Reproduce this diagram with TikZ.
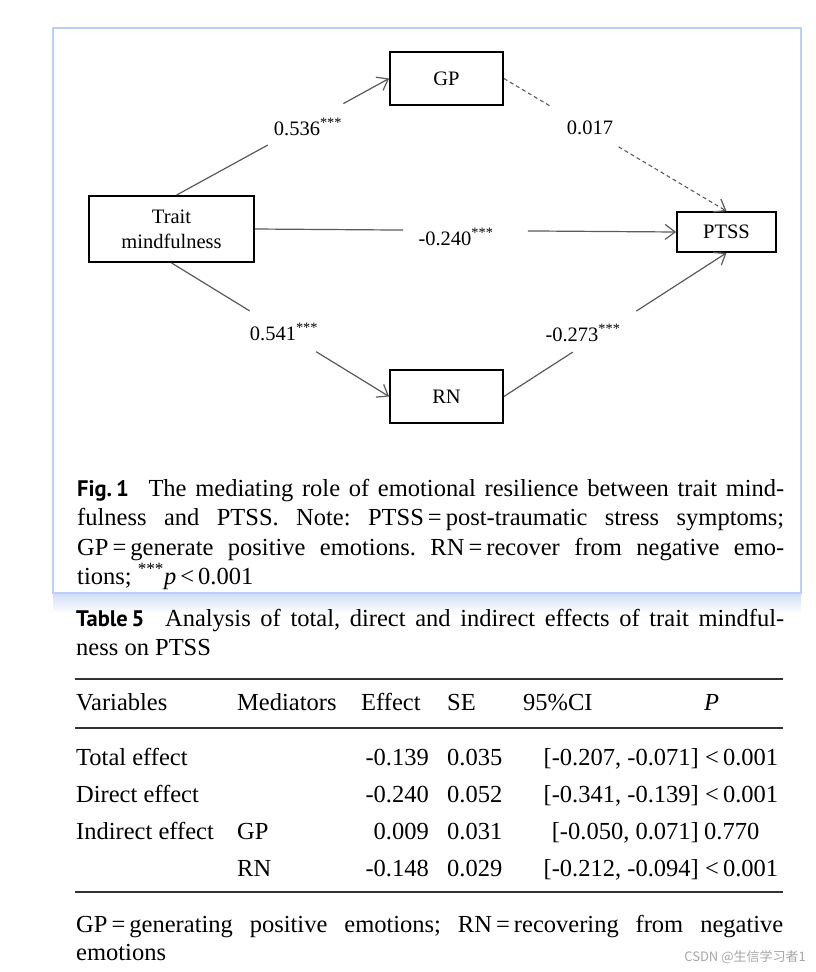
\documentclass[tikz,border=0pt]{standalone}
\usepackage{fontspec}
\setmainfont{Liberation Serif}
\newfontfamily\capsans{PT Sans}
\newfontfamily\cjkfont{Noto Sans CJK SC}
\usetikzlibrary{arrows.meta,calc}
\definecolor{conngray}{HTML}{5A5A5A}
\definecolor{frameblue}{HTML}{B9CFF4}
\definecolor{shadeblue}{HTML}{C6D8F6}
\definecolor{rulegray}{HTML}{333333}
\frenchspacing
\newcommand{\figfont}{\fontsize{20.5}{25}\selectfont}
\newcommand{\bodyfont}{\fontsize{24.5}{29.5}\selectfont\frenchspacing}
\newcommand{\capfont}{\fontsize{22.5}{26}\selectfont\capsans\bfseries}
\newcommand{\jline}[1]{\makebox[707pt][s]{#1}}
\begin{document}
\begin{tikzpicture}[x=1pt,y=-1pt,
  box/.style={draw=black, line width=1.8pt, inner sep=0pt, font=\figfont, align=center},
  conn/.style={draw=conngray, line width=1.2pt},
  tip/.style={-{Straight Barb[length=10pt,width=15pt,line width=1.2pt]}},
  dashconn/.style={draw=conngray, line width=1.1pt, dash pattern=on 4pt off 3pt},
  lbl/.style={font=\figfont, inner sep=0pt},
  tx/.style={font=\bodyfont, inner sep=0pt},
  rulestyle/.style={draw=rulegray}]
\useasboundingbox (0,0) rectangle (816,972);
\fill[white] (0,0) rectangle (816,972);
% frame with soft shadow
\shade[top color=shadeblue, bottom color=white] (53,590) rectangle (801,613);
\draw[frameblue, line width=1.5pt, fill=white] (53,28) rectangle (801,593);

% nodes
\node[box, minimum width=165pt, minimum height=66pt] (trait) at (171.5,229) {Trait\\mindfulness};
\node[box, minimum width=113pt, minimum height=53pt] (gp) at (446.5,78.5) {GP};
\node[box, minimum width=113pt, minimum height=53pt] (rn) at (446.5,396.5) {RN};
\node[box, minimum width=99pt, minimum height=40pt] (ptss) at (726.5,232) {PTSS};

% labels
\node[lbl] (l1) at (308,127) {0.536\textsuperscript{***}};
\node[lbl] (l2) at (456,237) {-0.240\textsuperscript{***}};
\node[lbl] (l3) at (284,332) {0.541\textsuperscript{***}};
\node[lbl] (l4) at (590,128) {0.017};
\node[lbl] (l5) at (583,333) {-0.273\textsuperscript{***}};

% connectors
\coordinate (tn) at ($(trait.north)+(5,0)$);
\draw[conn] (tn) -- ($(tn)!0.43!(gp.west)$);
\draw[conn, tip] ($(tn)!0.785!(gp.west)$) -- (gp.west);

\draw[conn] (trait.south) -- ($(trait.south)!0.359!(rn.west)$);
\draw[conn, tip] ($(trait.south)!0.665!(rn.west)$) -- (rn.west);

\draw[conn] (trait.east) -- ($(trait.east)!0.352!(ptss.west)$);
\draw[conn, tip] ($(trait.east)!0.648!(ptss.west)$) -- (ptss.west);

\draw[dashconn] (gp.east) -- ($(gp.east)!0.21!(ptss.north)$);
\draw[dashconn, tip] ($(gp.east)!0.515!(ptss.north)$) -- (ptss.north);

\draw[conn] (rn.east) -- ($(rn.east)!0.309!(ptss.south)$);
\draw[conn, tip] ($(rn.east)!0.595!(ptss.south)$) -- (ptss.south);

% figure caption
\node[tx, anchor=base west] (fc1) at (77,496) {\jline{{\capfont Fig.\,1}\hspace{0.45em} The mediating role of emotional resilience between trait mind-}};
\node[tx, anchor=base west] (fc2) at (77,525) {\jline{fulness and PTSS. Note: PTSS\,=\,post-traumatic stress symptoms;}};
\node[tx, anchor=base west] (fc3) at (77,555) {\jline{GP\,=\,generate positive emotions. RN\,=\,recover from negative emo-}};
\node[tx, anchor=base west] (fc4) at (77,584) {tions; \textsuperscript{***}\textit{p}\,<\,0.001};

% table caption
\node[tx, anchor=base west] (tc1) at (76,626) {\makebox[708pt][s]{{\capfont Table\,5}\hspace{0.45em} Analysis of total, direct and indirect effects of trait mindful-}};
\node[tx, anchor=base west] (tc2) at (76,655) {ness on PTSS};

% table rules
\draw[rulestyle, line width=1.3pt] (75,679) -- (783,679);
\draw[rulestyle, line width=2pt] (75,728) -- (783,728);
\draw[rulestyle, line width=1.3pt] (75,892) -- (783,892);

% header
\node[tx, anchor=base west] (h1) at (76,710) {Variables};
\node[tx, anchor=base west] (h2) at (237,710) {Mediators};
\node[tx, anchor=base west] (h3) at (361,710) {Effect};
\node[tx, anchor=base west] (h4) at (447,710) {SE};
\node[tx, anchor=base west] (h5) at (523,710) {95\%CI};
\node[tx, anchor=base west] (h6) at (704,710) {\textit{P}};

% rows
\node[tx, anchor=base west] (r1a) at (76,765) {Total effect};
\node[tx, anchor=base east] (r1c) at (429,765) {-0.139};
\node[tx, anchor=base west] (r1d) at (447,765) {0.035};
\node[tx, anchor=base east] (r1e) at (699,765) {[-0.207, -0.071]};
\node[tx, anchor=base west] (r1f) at (705,765) {<\,0.001};

\node[tx, anchor=base west] (r2a) at (76,802) {Direct effect};
\node[tx, anchor=base east] (r2c) at (429,802) {-0.240};
\node[tx, anchor=base west] (r2d) at (447,802) {0.052};
\node[tx, anchor=base east] (r2e) at (699,802) {[-0.341, -0.139]};
\node[tx, anchor=base west] (r2f) at (705,802) {<\,0.001};

\node[tx, anchor=base west] (r3a) at (76,839) {Indirect effect};
\node[tx, anchor=base west] (r3b) at (237,839) {GP};
\node[tx, anchor=base east] (r3c) at (429,839) {0.009};
\node[tx, anchor=base west] (r3d) at (447,839) {0.031};
\node[tx, anchor=base east] (r3e) at (699,839) {[-0.050, 0.071]};
\node[tx, anchor=base west] (r3f) at (704,839) {0.770};

\node[tx, anchor=base west] (r4b) at (237,876) {RN};
\node[tx, anchor=base east] (r4c) at (429,876) {-0.148};
\node[tx, anchor=base west] (r4d) at (447,876) {0.029};
\node[tx, anchor=base east] (r4e) at (699,876) {[-0.212, -0.094]};
\node[tx, anchor=base west] (r4f) at (705,876) {<\,0.001};

% footnote
\node[tx, anchor=base west] (fn1) at (76,932) {\makebox[707pt][s]{GP\,=\,generating positive emotions; RN\,=\,recovering from negative}};
\node[tx, anchor=base west] (fn2) at (76,960) {emotions};

% watermark
\node[inner sep=0pt, anchor=base east, text=black!35, font=\cjkfont\fontsize{13}{15}\selectfont] (wm) at (806,961) {CSDN @生信学习者1};
\end{tikzpicture}
\end{document}
